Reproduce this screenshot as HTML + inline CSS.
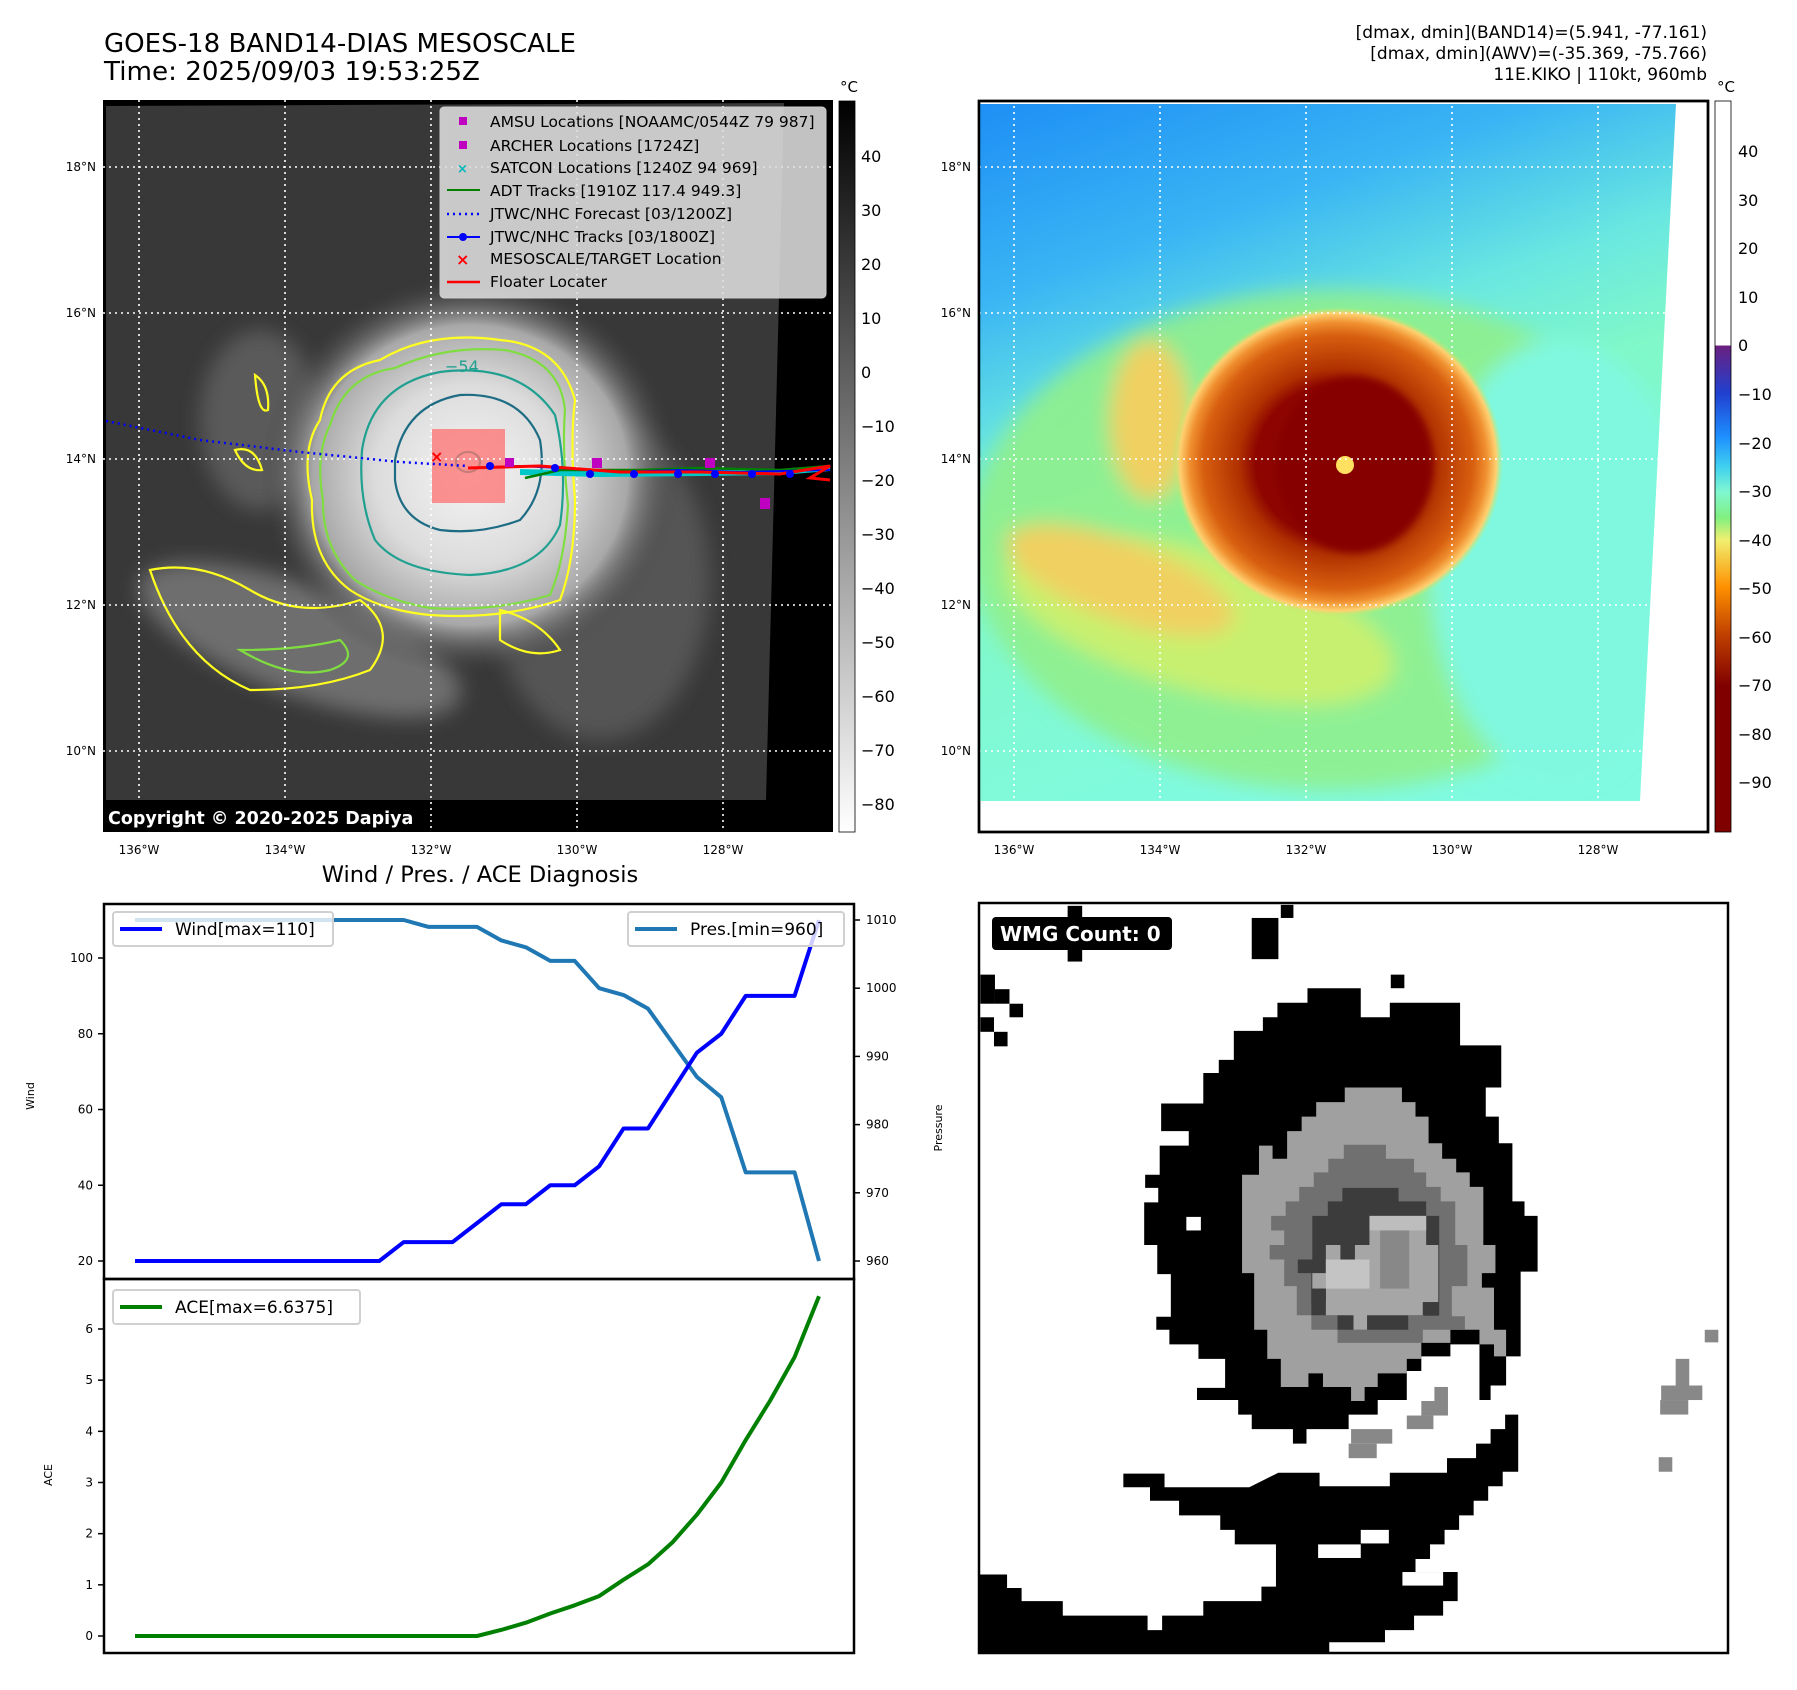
<!DOCTYPE html>
<html><head><meta charset="utf-8"><style>
html,body{margin:0;padding:0;background:#fff;}
svg{display:block;font-family:"DejaVu Sans","Liberation Sans",sans-serif;}
</style></head><body>
<svg id="root" width="1797" height="1690" viewBox="0 0 1797 1690" xmlns="http://www.w3.org/2000/svg">
<defs>
  <radialGradient id="storm" cx="0.5" cy="0.5" r="0.5">
    <stop offset="0" stop-color="#f4f4f4"/><stop offset="0.45" stop-color="#dcdcdc"/><stop offset="0.75" stop-color="#a8a8a8"/><stop offset="1" stop-color="#3c3c3c" stop-opacity="0"/>
  </radialGradient>
  <radialGradient id="storm2" cx="0.5" cy="0.5" r="0.5">
    <stop offset="0" stop-color="#8a0000"/><stop offset="0.5" stop-color="#8e0500"/><stop offset="0.6" stop-color="#b03000"/><stop offset="0.82" stop-color="#d86010"/><stop offset="0.9" stop-color="#f09030"/><stop offset="0.96" stop-color="#ffd070"/><stop offset="1" stop-color="#aef070" stop-opacity="0"/>
  </radialGradient>
  <linearGradient id="bgR" x1="0" y1="0" x2="0.35" y2="1">
    <stop offset="0" stop-color="#1e8ff5"/><stop offset="0.25" stop-color="#3ab4f4"/><stop offset="0.45" stop-color="#6ae8e0"/><stop offset="0.6" stop-color="#80f8c8"/><stop offset="1" stop-color="#80fae0"/>
  </linearGradient>
  <linearGradient id="cbL" x1="0" y1="0" x2="0" y2="1">
    <stop offset="0" stop-color="#000"/><stop offset="1" stop-color="#fff"/>
  </linearGradient>
  <linearGradient id="cbR" x1="0" y1="0" x2="0" y2="1">
    <stop offset="0" stop-color="#fff"/><stop offset="0.334" stop-color="#fff"/><stop offset="0.335" stop-color="#6a2080"/>
    <stop offset="0.40" stop-color="#2040d0"/><stop offset="0.46" stop-color="#1e90ff"/><stop offset="0.50" stop-color="#40d0f0"/>
    <stop offset="0.535" stop-color="#80f8d0"/><stop offset="0.57" stop-color="#80f080"/><stop offset="0.60" stop-color="#f0f070"/>
    <stop offset="0.665" stop-color="#ff9000"/><stop offset="0.73" stop-color="#c04000"/><stop offset="0.80" stop-color="#800000"/><stop offset="1" stop-color="#800000"/>
  </linearGradient>
  <filter id="blur4"><feGaussianBlur stdDeviation="4"/></filter>
  <filter id="blur10"><feGaussianBlur stdDeviation="10"/></filter>
  <clipPath id="clipL"><rect x="103" y="100" width="730" height="732"/></clipPath>
  <clipPath id="clipR"><polygon points="980,104 1676,104 1640,801 980,801"/></clipPath>
</defs>

<text x="104" y="52" font-size="26" textLength="472" lengthAdjust="spacingAndGlyphs">GOES-18 BAND14-DIAS MESOSCALE</text>
<text x="104" y="80" font-size="26" textLength="376" lengthAdjust="spacingAndGlyphs">Time: 2025/09/03 19:53:25Z</text>
<g font-size="17" text-anchor="end">
<text x="1707" y="38">[dmax, dmin](BAND14)=(5.941, -77.161)</text>
<text x="1707" y="59">[dmax, dmin](AWV)=(-35.369, -75.766)</text>
<text x="1707" y="80">11E.KIKO | 110kt, 960mb</text>
</g>

<g>
<rect x="103" y="100" width="730" height="732" fill="#000"/>
<g clip-path="url(#clipL)">
 <polygon points="106,106 784,103 766,800 106,800" fill="#383838"/>
 <g filter="url(#blur10)">
  <ellipse cx="300" cy="640" rx="170" ry="55" fill="#6e6e6e" transform="rotate(20 300 640)"/>
  <ellipse cx="260" cy="420" rx="60" ry="90" fill="#5a5a5a"/>
  <ellipse cx="600" cy="580" rx="110" ry="160" fill="#555"/>
 </g>
 <ellipse cx="470" cy="475" rx="210" ry="200" fill="url(#storm)"/>
 <g fill="none" stroke-width="2.2">
  <path d="M320,420 Q330,370 380,360 Q430,330 500,340 Q560,345 575,400 Q570,440 575,500 Q575,560 560,600 Q500,620 430,615 Q380,610 350,590 Q310,560 312,500 Q300,450 320,420Z" stroke="#ffff20"/>
  <path d="M330,425 Q345,375 395,368 Q445,345 505,350 Q560,360 565,410 Q562,450 568,505 Q565,560 550,595 Q495,612 430,608 Q385,600 355,580 Q322,548 323,500 Q315,455 330,425Z" stroke="#80dd40"/>
  <path d="M362,450 Q372,385 440,372 Q520,362 555,415 Q568,470 560,525 Q540,572 470,575 Q400,572 375,540 Q358,500 362,450Z" stroke="#20a090"/>
  <path d="M395,460 Q405,405 460,395 Q520,392 540,440 Q548,490 520,520 Q480,535 440,530 Q400,520 395,480 Z" stroke="#1e6c84"/>
  <path d="M150,570 Q200,560 250,590 Q300,620 360,600 Q400,630 370,670 Q320,690 250,690 Q180,660 150,570Z" stroke="#ffff20"/>
  <path d="M240,650 Q300,650 340,640 Q360,660 330,670 Q290,680 240,650Z" stroke="#80dd40"/>
  <path d="M255,375 Q270,385 268,410 Q258,415 255,375Z M235,450 Q255,445 262,470 Q245,472 235,450Z M500,610 Q540,620 560,650 Q530,660 500,640Z" stroke="#ffff20"/>
  <ellipse cx="468" cy="462" rx="12" ry="10" stroke="#20a090"/>
 </g>
 <text x="445" y="372" font-size="16" fill="#20a090">−54</text>
 <rect x="432" y="429" width="73" height="74" fill="#ff7070" fill-opacity="0.75"/>
 <g stroke="#fff" stroke-width="1.6" stroke-dasharray="2,4">
  <line x1="139" y1="100" x2="139" y2="832"/><line x1="285" y1="100" x2="285" y2="832"/><line x1="431" y1="100" x2="431" y2="832"/><line x1="577" y1="100" x2="577" y2="832"/><line x1="723" y1="100" x2="723" y2="832"/>
  <line x1="103" y1="167" x2="833" y2="167"/><line x1="103" y1="313" x2="833" y2="313"/><line x1="103" y1="459" x2="833" y2="459"/><line x1="103" y1="605" x2="833" y2="605"/><line x1="103" y1="751" x2="833" y2="751"/>
 </g>
 <polyline points="106,421 200,440 300,452 400,462 468,466" fill="none" stroke="#0000ff" stroke-width="2.5" stroke-dasharray="2,4"/>
 <g>
  <polyline points="520,472 600,474 700,473 780,472 830,468" fill="none" stroke="#00c8c8" stroke-width="6"/>
  <polyline points="525,478 560,470 640,470 700,468 780,470 830,466" fill="none" stroke="#008000" stroke-width="2.5"/>
  <polyline points="468,468 520,466 560,468 620,472 680,470 740,472 830,470" fill="none" stroke="#0000ff" stroke-width="2"/>
  <polyline points="468,468 540,466 620,472 700,472 780,474 830,466 810,478 830,480" fill="none" stroke="#ff0000" stroke-width="3"/>
  <g fill="#0000ff"><circle cx="490" cy="466" r="4"/><circle cx="555" cy="468" r="4"/><circle cx="590" cy="474" r="4"/><circle cx="634" cy="474" r="4"/><circle cx="678" cy="474" r="4"/><circle cx="715" cy="474" r="4"/><circle cx="752" cy="474" r="4"/><circle cx="790" cy="474" r="4"/></g>
  <g fill="#c000c0"><rect x="505" y="458" width="9" height="9"/><rect x="592" y="458" width="10" height="10"/><rect x="705" y="458" width="10" height="10"/><rect x="760" y="498" width="10" height="11"/></g>
  <text x="430" y="462" font-size="16" fill="#ff0000" font-weight="bold">×</text>
 </g>
</g>
<rect x="105" y="801" width="312" height="30" rx="4" fill="#000"/>
<text x="108" y="824" font-size="17.5" font-weight="bold" fill="#fff">Copyright © 2020-2025 Dapiya</text>
<g font-size="15.5">
 <rect x="440" y="107" width="386" height="191" rx="4" fill="#ddd" fill-opacity="0.88" stroke="#ccc"/>
 <rect x="459" y="117" width="8" height="8" fill="#c000c0"/><text x="490" y="127">AMSU Locations [NOAAMC/0544Z 79 987]</text>
 <rect x="459" y="141" width="8" height="8" fill="#c000c0"/><text x="490" y="151">ARCHER Locations [1724Z]</text>
 <text x="457" y="173" fill="#00b8b8" font-size="13" font-weight="bold">×</text><text x="490" y="173">SATCON Locations [1240Z 94 969]</text>
 <line x1="447" y1="190" x2="480" y2="190" stroke="#008000" stroke-width="2"/><text x="490" y="196">ADT Tracks [1910Z 117.4 949.3]</text>
 <line x1="447" y1="214" x2="480" y2="214" stroke="#0000ff" stroke-width="2.5" stroke-dasharray="2,4"/><text x="490" y="219">JTWC/NHC Forecast [03/1200Z]</text>
 <line x1="447" y1="237" x2="480" y2="237" stroke="#0000ff" stroke-width="2"/><circle cx="463" cy="237" r="4" fill="#0000ff"/><text x="490" y="242">JTWC/NHC Tracks [03/1800Z]</text>
 <text x="456" y="265" fill="#ff0000" font-size="16" font-weight="bold">×</text><text x="490" y="264">MESOSCALE/TARGET Location</text>
 <line x1="447" y1="282" x2="480" y2="282" stroke="#ff0000" stroke-width="2.5"/><text x="490" y="287">Floater Locater</text>
</g>
<g font-size="12" text-anchor="end">
 <text x="96" y="171">18°N</text><text x="96" y="317">16°N</text><text x="96" y="463">14°N</text><text x="96" y="609">12°N</text><text x="96" y="755">10°N</text>
</g>
<g font-size="12" text-anchor="middle">
 <text x="139" y="854">136°W</text><text x="285" y="854">134°W</text><text x="431" y="854">132°W</text><text x="577" y="854">130°W</text><text x="723" y="854">128°W</text>
</g>
<rect x="839" y="101" width="16" height="731" fill="url(#cbL)" stroke="#000" stroke-width="0.8"/>
<text x="849" y="92" font-size="15" text-anchor="middle">°C</text>
<g font-size="16">
 <text x="861" y="162">40</text><text x="861" y="216">30</text><text x="861" y="270">20</text><text x="861" y="324">10</text><text x="861" y="378">0</text><text x="861" y="432">−10</text><text x="861" y="486">−20</text><text x="861" y="540">−30</text><text x="861" y="594">−40</text><text x="861" y="648">−50</text><text x="861" y="702">−60</text><text x="861" y="756">−70</text><text x="861" y="810">−80</text>
</g>
</g>

<g>
<rect x="979" y="101" width="729" height="731" fill="#fff" stroke="#000" stroke-width="2.5"/>
<g clip-path="url(#clipR)">
 <rect x="980" y="104" width="700" height="700" fill="url(#bgR)"/>
 <g filter="url(#blur10)">
  <ellipse cx="1330" cy="540" rx="360" ry="250" fill="#90f08c" opacity="0.9"/>
  <ellipse cx="1560" cy="560" rx="130" ry="220" fill="#80f8e0"/>
  <ellipse cx="1200" cy="620" rx="200" ry="70" fill="#c8f070" transform="rotate(15 1200 620)"/>
  <ellipse cx="1120" cy="580" rx="120" ry="40" fill="#f0d060" transform="rotate(20 1120 580)"/>
  <ellipse cx="1150" cy="420" rx="40" ry="80" fill="#f0d060"/>
 </g>
 <ellipse cx="1338" cy="462" rx="165" ry="155" fill="url(#storm2)"/>
 <ellipse cx="1355" cy="465" rx="78" ry="88" fill="#860000" filter="url(#blur4)"/>
 <circle cx="1345" cy="465" r="9" fill="#ffe060"/>
 <g stroke="#fff" stroke-width="1.6" stroke-dasharray="2,4">
  <line x1="1014" y1="100" x2="1014" y2="832"/><line x1="1160" y1="100" x2="1160" y2="832"/><line x1="1306" y1="100" x2="1306" y2="832"/><line x1="1452" y1="100" x2="1452" y2="832"/><line x1="1598" y1="100" x2="1598" y2="832"/>
  <line x1="979" y1="167" x2="1708" y2="167"/><line x1="979" y1="313" x2="1708" y2="313"/><line x1="979" y1="459" x2="1708" y2="459"/><line x1="979" y1="605" x2="1708" y2="605"/><line x1="979" y1="751" x2="1708" y2="751"/>
 </g>
</g>
<rect x="979" y="101" width="729" height="731" fill="none" stroke="#000" stroke-width="2.5"/>
<g font-size="12" text-anchor="end">
 <text x="971" y="171">18°N</text><text x="971" y="317">16°N</text><text x="971" y="463">14°N</text><text x="971" y="609">12°N</text><text x="971" y="755">10°N</text>
</g>
<g font-size="12" text-anchor="middle">
 <text x="1014" y="854">136°W</text><text x="1160" y="854">134°W</text><text x="1306" y="854">132°W</text><text x="1452" y="854">130°W</text><text x="1598" y="854">128°W</text>
</g>
<rect x="1715" y="101" width="16" height="731" fill="url(#cbR)" stroke="#000" stroke-width="0.8"/>
<text x="1726" y="92" font-size="15" text-anchor="middle">°C</text>
<g font-size="16">
 <text x="1738" y="157">40</text><text x="1738" y="206">30</text><text x="1738" y="254">20</text><text x="1738" y="303">10</text><text x="1738" y="351">0</text><text x="1738" y="400">−10</text><text x="1738" y="449">−20</text><text x="1738" y="497">−30</text><text x="1738" y="546">−40</text><text x="1738" y="594">−50</text><text x="1738" y="643">−60</text><text x="1738" y="691">−70</text><text x="1738" y="740">−80</text><text x="1738" y="788">−90</text>
</g>
</g>

<g>
<rect x="979" y="903" width="749" height="750" fill="#fff"/>
<g transform="translate(978,901) scale(0.4845)">
 <polygon fill="#000" points="680,180 790,180 790,240 850,240 850,210 995,210 995,298 1080,298 1080,385 1048,385 1048,445 1075,445 1075,500 1103,500 1103,620 1128,620 1128,650 1155,650 1155,765 1120,765 1120,940 1090,940 1090,1000 1058,1000 1058,1030 1035,1030 1035,915 975,915 975,940 915,940 915,970 885,970 885,1030 825,1030 825,1060 765,1060 765,1090 678,1090 678,1120 650,1120 650,1090 565,1090 565,1060 537,1060 537,1030 452,1030 452,1005 510,1005 510,945 455,945 455,915 395,915 395,885 368,885 368,858 398,858 398,770 370,770 370,710 343,710 343,622 372,622 372,592 345,592 345,565 375,565 375,505 435,505 435,475 378,475 378,418 465,418 465,355 497,355 497,328 528,328 528,268 588,268 588,240 618,240 618,210 680,210"/>
 <rect x="430" y="652" width="30" height="28" fill="#fff"/>
 <polygon fill="#a0a0a0" points="757,385 875,385 875,415 903,415 903,445 930,445 930,500 958,500 958,532 987,532 987,560 1015,560 1015,590 1043,590 1043,710 1068,710 1068,768 1040,768 1040,798 1065,798 1065,885 1090,885 1090,940 1065,940 1065,915 1035,915 1035,885 975,885 975,912 915,912 915,945 885,945 885,975 825,975 825,1003 798,1003 798,1032 770,1032 770,1003 712,1003 712,975 682,975 682,1003 625,1003 625,945 597,945 597,885 570,885 570,768 545,768 545,565 580,565 580,505 608,505 608,532 638,532 638,475 668,475 668,445 698,445 698,415 757,415"/>
 <polygon fill="#707070" points="755,503 842,503 842,532 900,532 900,560 925,560 925,590 955,590 955,620 985,620 985,710 1010,710 1010,795 978,795 978,857 1005,857 1005,885 918,885 918,912 742,912 742,885 688,885 688,855 658,855 658,795 632,795 632,740 602,740 602,710 632,710 632,680 605,680 605,650 635,650 635,620 663,620 663,590 693,590 693,560 723,560 723,532 755,532"/>
 <polygon fill="#3c3c3c" points="752,592 868,592 868,620 925,620 925,650 952,650 952,855 888,855 888,885 742,885 742,855 688,855 688,768 660,768 660,740 690,740 690,650 722,650 722,620 752,620"/>
 <polygon fill="#a6a6a6" points="808,650 925,650 925,710 950,710 950,828 918,828 918,855 803,855 803,885 775,885 775,855 718,855 718,800 690,800 690,768 718,768 718,710 808,710"/>
 <rect x="808" y="650" width="117" height="30" fill="#bdbdbd"/>
 <rect x="718" y="740" width="90" height="60" fill="#c4c4c4"/>
 <rect x="830" y="680" width="60" height="120" fill="#888"/>
 <rect x="748" y="710" width="30" height="30" fill="#3c3c3c"/>
 <rect x="920" y="828" width="30" height="28" fill="#3c3c3c"/>
 <rect x="688" y="800" width="30" height="28" fill="#3c3c3c"/>
 <polygon fill="#000" points="300,1182 385,1182 385,1210 560,1210 620,1180 705,1180 705,1208 850,1208 850,1180 968,1180 968,1150 1028,1150 1028,1120 1058,1120 1058,1090 1088,1090 1088,1060 1115,1060 1115,1178 1083,1178 1083,1208 1053,1208 1053,1238 1023,1238 1023,1268 993,1268 993,1298 963,1298 963,1328 933,1328 933,1358 903,1358 903,1385 990,1385 990,1445 960,1445 960,1475 900,1475 900,1505 840,1505 840,1530 725,1530 725,1552 0,1552 0,1390 60,1390 60,1418 90,1418 90,1445 175,1445 175,1475 350,1475 350,1505 380,1505 380,1475 465,1475 465,1445 585,1445 585,1415 615,1415 615,1328 530,1328 530,1298 500,1298 500,1268 415,1268 415,1238 355,1238 355,1210 300,1210"/>
 <rect x="790" y="1298" width="58" height="28" fill="#fff"/><rect x="702" y="1328" width="88" height="28" fill="#fff"/><rect x="876" y="1385" width="84" height="28" fill="#fff"/>
 <g fill="#000"><rect x="565" y="35" width="55" height="85"/><rect x="625" y="8" width="26" height="27"/><rect x="185" y="10" width="30" height="115"/><rect x="852" y="152" width="28" height="28"/><rect x="5" y="152" width="30" height="60"/><rect x="35" y="182" width="30" height="30"/><rect x="65" y="212" width="28" height="28"/><rect x="5" y="240" width="28" height="30"/><rect x="33" y="270" width="28" height="30"/></g>
 <g fill="#888"><rect x="1500" y="885" width="28" height="26"/><rect x="1440" y="945" width="28" height="60"/><rect x="1410" y="1000" width="85" height="30"/><rect x="1408" y="1030" width="58" height="30"/><rect x="1405" y="1148" width="28" height="30"/><rect x="770" y="1090" width="85" height="30"/><rect x="765" y="1120" width="58" height="30"/><rect x="885" y="1062" width="55" height="28"/><rect x="915" y="1032" width="55" height="30"/><rect x="942" y="1003" width="28" height="30"/></g>
</g>
<rect x="979" y="903" width="749" height="750" fill="none" stroke="#000" stroke-width="2.5"/>
<rect x="992" y="917" width="180" height="33" rx="4" fill="#000"/>
<text x="1000" y="941" font-size="20" font-weight="bold" fill="#fff">WMG Count: 0</text>
</g>

<text x="480" y="882" font-size="22.5" text-anchor="middle">Wind / Pres. / ACE Diagnosis</text>
<g id="charts"></g>
</svg>
<script>
const windValues = [20,20,20,20,20,20,20,20,20,20,20,25,25,25,30,35,35,40,40,45,55,55,65,75,80,90,90,90,110];
const presValues = [1010,1010,1010,1010,1010,1010,1010,1010,1010,1010,1010,1010,1009,1009,1009,1007,1006,1004,1004,1000,999,997,992,987,984,973,973,973,960];
const aceValues = [0,0,0,0,0,0,0,0,0,0,0,0,0,0,0,0.12,0.26,0.44,0.6,0.78,1.1,1.4,1.83,2.37,3.0,3.83,4.6,5.45,6.64];
const windTicks = [20,40,60,80,100];
const presTicks = [960,970,980,990,1000,1010];
const aceTicks = [0,1,2,3,4,5,6];

const NS = 'http://www.w3.org/2000/svg';
const g = document.getElementById('charts');
const X0 = 135, X1 = 819;
const xS = i => X0 + (X1 - X0) * i / (windValues.length - 1);
const windY = v => 1261 - (v - 20) * (1261 - 958) / 80;
const presY = v => 1261 - (v - 960) * (1261 - 920) / 50;
const aceY = v => 1636 - v * (1636 - 1329) / 6;
function mk(tag, attrs, parent) {
  const e = document.createElementNS(NS, tag);
  for (const k in attrs) e.setAttribute(k, attrs[k]);
  (parent || g).appendChild(e);
  return e;
}
function txt(x, y, s, attrs) {
  const t = mk('text', Object.assign({x: x, y: y, 'font-size': 12}, attrs || {}));
  t.textContent = s;
  return t;
}
const f1 = mk('rect', {x: 104, y: 904, width: 750, height: 375, fill: 'none', stroke: '#000', 'stroke-width': 2.5});


const f2 = mk('rect', {x: 104, y: 1279, width: 750, height: 374, fill: 'none', stroke: '#000', 'stroke-width': 2.5});


windTicks.forEach(v => {
  const y = windY(v);
  mk('line', {x1: 98, y1: y, x2: 104, y2: y, stroke: '#000', 'stroke-width': 1.5});
  const t = txt(93, y + 4, String(v), {'text-anchor': 'end'});
  
  
});
presTicks.forEach(v => {
  const y = presY(v);
  mk('line', {x1: 854, y1: y, x2: 860, y2: y, stroke: '#000', 'stroke-width': 1.5});
  const t = txt(866, y + 4, String(v));
  
  
});
aceTicks.forEach(v => {
  const y = aceY(v);
  mk('line', {x1: 98, y1: y, x2: 104, y2: y, stroke: '#000', 'stroke-width': 1.5});
  const t = txt(93, y + 4, String(v), {'text-anchor': 'end'});
  
  
});
const yt1 = txt(34, 1096, 'Wind', {'font-size': 11, 'text-anchor': 'middle', transform: 'rotate(-90 34 1096)'});


const yt2 = txt(942, 1128, 'Pressure', {'font-size': 11, 'text-anchor': 'middle', transform: 'rotate(-90 942 1128)'});


const yt3 = txt(52, 1475, 'ACE', {'font-size': 11, 'text-anchor': 'middle', transform: 'rotate(-90 52 1475)'});


function line(vals, yf, color, name) {
  const p = mk('polyline', {points: vals.map((v, i) => xS(i) + ',' + yf(v)).join(' '), fill: 'none', stroke: color, 'stroke-width': 4, 'stroke-linejoin': 'round'});
  
  
}
line(presValues, presY, '#1f77b4', 'pressure-line');
line(windValues, windY, '#0000ff', 'wind-line');
line(aceValues, aceY, '#008000', 'ace-line');
function legend(x, y, w, color, label, name) {
  const r = mk('rect', {x: x, y: y, width: w, height: 34, rx: 3, fill: '#fff', 'fill-opacity': 0.8, stroke: '#d0d0d0', 'stroke-width': 2});
  
  
  mk('line', {x1: x + 7, y1: y + 17, x2: x + 49, y2: y + 17, stroke: color, 'stroke-width': 4});
  txt(x + 62, y + 23, label, {'font-size': 17});
}
legend(113, 912, 220, '#0000ff', 'Wind[max=110]', 'wind-legend');
legend(628, 912, 216, '#1f77b4', 'Pres.[min=960]', 'pressure-legend');
legend(113, 1290, 247, '#008000', 'ACE[max=6.6375]', 'ace-legend');
</script>
</body></html>
